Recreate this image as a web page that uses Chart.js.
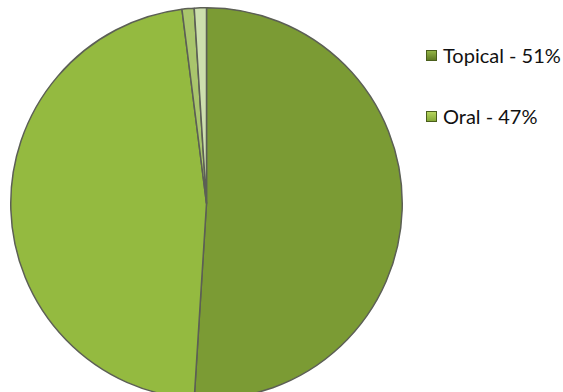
<!DOCTYPE html>
<html>
<head>
<meta charset="utf-8">
<script src="https://cdn.jsdelivr.net/npm/chart.js@4"></script>
<style>
  html, body { margin: 0; padding: 0; background: #fff; }
  body { width: 563px; height: 392px; overflow: hidden; position: relative; }
  #pieBox { position: absolute; left: 9px; top: 7px; width: 395px; height: 393px; }
  #legenda { position: absolute; left: 426px; top: 40px; font-family: Lato, "Liberation Sans", sans-serif; font-size: 20px; color: #111; }
  .leg-item { display: flex; align-items: center; height: 30px; margin-bottom: 31px; }
  .leg-box { width: 11px; height: 11px; margin-right: 6px; border: 1px solid #4a5e1c; box-sizing: border-box; }
</style>
</head>
<body>
<div id="pieBox"><canvas id="pieChart"></canvas></div>
<div id="legenda"></div>

<script>
// ----------------------------
// Dados do gráfico
// ----------------------------
const categorias = ["Topical", "Oral", "Outro A", "Outro B"];
const percentuais = [51, 47, 1, 1];
const coresFatias = ["#7b9b34", "#94ba40", "#a9c56c", "#cddfae"];
const legendaVisivel = [0, 1]; // só Topical e Oral aparecem na legenda

// ----------------------------
// Legenda em HTML
// ----------------------------
const legenda = document.getElementById("legenda");
const gradLegenda = [
  "linear-gradient(#93b446, #5f7a22)",
  "linear-gradient(#b5d45e, #85a936)"
];
legendaVisivel.forEach((i, n) => {
  const item = document.createElement("div");
  item.className = "leg-item";
  const box = document.createElement("span");
  box.className = "leg-box";
  box.style.background = gradLegenda[n];
  const txt = document.createElement("span");
  txt.textContent = `${categorias[i]} - ${percentuais[i]}%`;
  item.appendChild(box);
  item.appendChild(txt);
  legenda.appendChild(item);
});

// ----------------------------
// Pizza
// ----------------------------
const ctx = document.getElementById("pieChart");
new Chart(ctx, {
  type: "pie",
  data: {
    labels: categorias,
    datasets: [{
      data: percentuais,
      backgroundColor: coresFatias,
      borderColor: "#5c5f55",
      borderWidth: 1.5
    }]
  },
  options: {
    responsive: true,
    maintainAspectRatio: false,
    animation: false,
    layout: { padding: 0 },
    plugins: {
      legend: { display: false },
      tooltip: { enabled: false }
    }
  }
});
</script>
</body>
</html>
